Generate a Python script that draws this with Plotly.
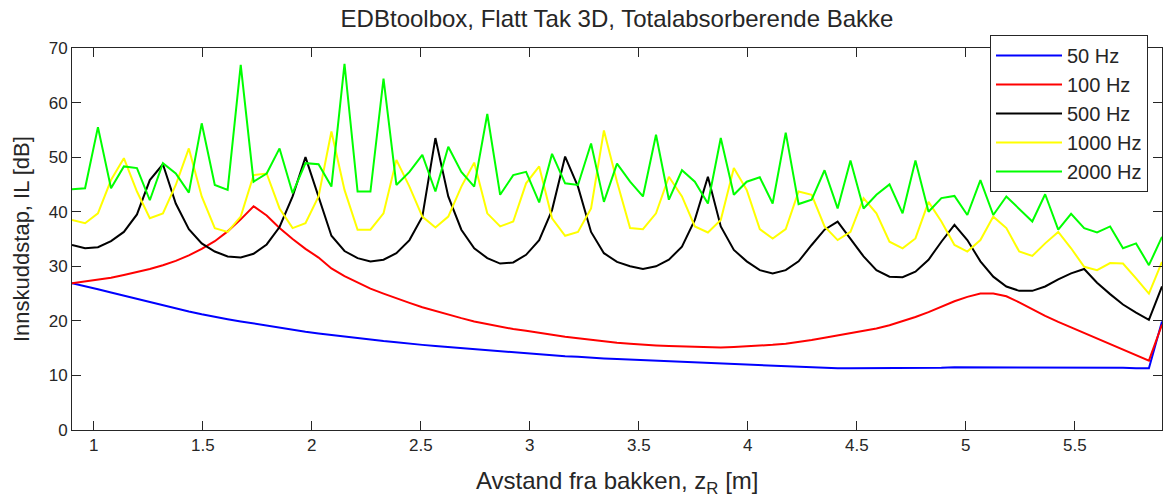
import plotly.graph_objects as go

# Receiver heights above the ground, z_R [m]
z_r = [
    0.900, 0.960, 1.019, 1.079, 1.138, 1.198, 1.257, 1.317, 1.376, 1.436,
    1.495, 1.555, 1.614, 1.674, 1.733, 1.793, 1.852, 1.912, 1.971, 2.031,
    2.090, 2.150, 2.210, 2.269, 2.329, 2.388, 2.448, 2.507, 2.567, 2.626,
    2.686, 2.745, 2.805, 2.864, 2.924, 2.983, 3.043, 3.102, 3.162, 3.221,
    3.281, 3.340, 3.400, 3.460, 3.519, 3.579, 3.638, 3.698, 3.757, 3.817,
    3.876, 3.936, 3.995, 4.055, 4.114, 4.174, 4.233, 4.293, 4.352, 4.412,
    4.471, 4.531, 4.590, 4.650, 4.710, 4.769, 4.829, 4.888, 4.948, 5.007,
    5.067, 5.126, 5.186, 5.245, 5.305, 5.364, 5.424, 5.483, 5.543, 5.602,
    5.662, 5.721, 5.781, 5.840, 5.900,
]

# Insertion loss IL [dB] per frequency
il_50 = [
    26.9, 26.4, 25.8, 25.2, 24.6, 24.0, 23.4, 22.8, 22.2, 21.7,
    21.2, 20.7, 20.3, 19.9, 19.5, 19.1, 18.7, 18.3, 18.0, 17.7,
    17.4, 17.1, 16.8, 16.6, 16.3, 16.1, 15.8, 15.6, 15.4, 15.2,
    15.0, 14.8, 14.6, 14.4, 14.2, 14.0, 13.8, 13.7, 13.5, 13.4,
    13.2, 13.1, 13.0, 12.9, 12.8, 12.7, 12.6, 12.5, 12.3, 12.2,
    12.1, 12.0, 11.9, 11.8, 11.7, 11.6, 11.5, 11.4, 11.4, 11.3,
    11.3, 11.3, 11.3, 11.3, 11.3, 11.4, 11.4, 11.4, 11.5, 11.5,
    11.5, 11.5, 11.5, 11.5, 11.5, 11.5, 11.5, 11.5, 11.5, 11.4,
    11.4, 11.4, 11.3, 11.3, 19.9,
]
il_100 = [
    26.9, 27.2, 27.5, 27.9, 28.4, 28.9, 29.5, 30.2, 31.0, 32.0,
    33.2, 34.6, 36.4, 38.6, 41.0, 39.3, 37.0, 35.0, 33.2, 31.6,
    29.6, 28.2, 27.0, 25.9, 25.0, 24.1, 23.3, 22.5, 21.8, 21.1,
    20.5, 19.9, 19.4, 18.9, 18.5, 18.2, 17.8, 17.4, 17.1, 16.8,
    16.5, 16.2, 16.0, 15.8, 15.6, 15.5, 15.4, 15.3, 15.2, 15.1,
    15.1, 15.2, 15.3, 15.4, 15.6, 15.8, 16.1, 16.5, 16.9, 17.3,
    17.7, 18.1, 18.6, 19.2, 19.9, 20.7, 21.6, 22.6, 23.6, 24.4,
    25.0, 25.0, 24.5, 23.4, 22.1, 20.9, 19.8, 18.8, 17.8, 16.8,
    15.8, 14.8, 13.8, 12.7, 19.3,
]
il_500 = [
    33.9, 33.3, 33.5, 34.6, 36.3, 39.5, 45.8, 48.7, 41.5, 36.8,
    34.2, 32.7, 31.8, 31.6, 32.3, 34.0, 37.2, 42.8, 50.0, 42.8,
    35.6, 32.8, 31.5, 30.9, 31.2, 32.4, 34.8, 39.1, 53.5, 42.8,
    36.7, 33.3, 31.5, 30.5, 30.7, 32.1, 34.8, 40.3, 50.1, 44.6,
    36.3, 32.4, 30.8, 30.0, 29.5, 30.0, 31.2, 33.6, 38.5, 46.4,
    37.3, 33.0, 30.9, 29.3, 28.7, 29.3, 30.9, 33.9, 36.7, 38.2,
    35.1, 31.8, 29.3, 28.1, 28.0, 29.0, 31.2, 34.5, 37.6, 34.8,
    30.9, 28.1, 26.3, 25.5, 25.5, 26.3, 27.6, 28.7, 29.5, 27.0,
    24.9, 23.0, 21.5, 20.2, 26.3,
]
il_1000 = [
    38.5, 37.9, 39.7, 45.8, 49.8, 43.7, 38.8, 39.7, 44.9, 51.6,
    42.8, 37.0, 36.3, 39.1, 46.7, 47.0, 40.6, 37.0, 37.9, 42.8,
    54.7, 44.0, 36.7, 36.7, 39.7, 49.5, 44.6, 39.1, 37.1, 39.1,
    44.6, 49.0, 39.7, 37.3, 38.2, 45.2, 48.3, 38.8, 35.6, 36.3,
    40.6, 54.9, 45.5, 37.0, 36.8, 39.7, 46.4, 42.8, 37.3, 36.2,
    38.5, 48.0, 44.0, 36.8, 35.1, 36.8, 43.7, 43.1, 37.3, 34.8,
    36.3, 42.5, 39.7, 34.5, 33.3, 35.1, 41.8, 38.2, 33.9, 32.7,
    34.8, 39.1, 37.0, 32.7, 31.9, 34.2, 36.3, 33.3, 29.9, 29.3,
    30.6, 30.5, 27.8, 25.0, 30.8,
]
il_2000 = [
    44.1, 44.3, 55.5, 44.3, 48.3, 48.0, 42.1, 48.9, 47.0, 43.5,
    56.2, 44.9, 44.0, 66.9, 45.5, 47.0, 51.6, 43.4, 48.9, 48.7,
    44.6, 67.1, 43.7, 43.7, 64.4, 44.9, 47.3, 50.4, 43.7, 51.9,
    47.3, 44.6, 57.9, 43.1, 46.7, 47.3, 41.7, 50.6, 45.2, 44.9,
    52.5, 41.8, 48.8, 45.5, 42.8, 54.1, 42.2, 47.6, 45.5, 41.5,
    53.5, 43.1, 45.5, 46.3, 41.5, 54.5, 41.4, 42.2, 47.6, 40.6,
    49.4, 40.6, 43.1, 45.0, 39.7, 49.4, 40.0, 42.5, 42.9, 39.4,
    45.8, 39.4, 42.8, 40.6, 38.2, 43.2, 36.7, 39.6, 37.0, 36.2,
    37.3, 33.3, 34.2, 30.2, 35.4,
]

series_names = ["50 Hz", "100 Hz", "500 Hz", "1000 Hz", "2000 Hz"]
series_values = [il_50, il_100, il_500, il_1000, il_2000]
series_colors = ["#0000ff", "#ff0000", "#000000", "#ffff00", "#00ff00"]

x_ticks = [1, 1.5, 2, 2.5, 3, 3.5, 4, 4.5, 5, 5.5]
x_tick_text = ["1", "1.5", "2", "2.5", "3", "3.5", "4", "4.5", "5", "5.5"]
y_ticks = [0, 10, 20, 30, 40, 50, 60, 70]

FONT = "Liberation Sans, Arial, sans-serif"
TEXT_COLOR = "#262626"

fig = go.Figure()
for name, vals, col in zip(series_names, series_values, series_colors):
    fig.add_trace(go.Scatter(
        x=z_r, y=vals, mode="lines", name=name,
        line=dict(color=col, width=2),
    ))

axis_common = dict(
    showline=True, linecolor=TEXT_COLOR, linewidth=1, mirror="ticks",
    ticks="inside", ticklen=9, tickwidth=1, tickcolor=TEXT_COLOR,
    showgrid=False, zeroline=False,
    tickfont=dict(family=FONT, size=17, color=TEXT_COLOR),
)

fig.update_layout(
    width=1164, height=497,
    margin=dict(l=72, r=2, t=48, b=67),
    paper_bgcolor="white", plot_bgcolor="white",
    title=dict(
        text="EDBtoolbox, Flatt Tak 3D, Totalabsorberende Bakke",
        x=0.5, xref="paper", xanchor="center",
        y=1 - 19 / 497, yref="container", yanchor="middle",
        font=dict(family=FONT, size=24, color=TEXT_COLOR),
    ),
    xaxis=dict(range=[0.9, 5.9], tickvals=x_ticks, ticktext=x_tick_text,
               **axis_common),
    yaxis=dict(range=[0, 70], tickvals=y_ticks, **axis_common),
    legend=dict(
        x=(990 - 72) / 1090, y=(430 - 35) / 382,
        xanchor="left", yanchor="top",
        bgcolor="white", bordercolor=TEXT_COLOR, borderwidth=1,
        font=dict(family=FONT, size=20, color=TEXT_COLOR),
        itemwidth=66, tracegroupgap=0,
    ),
    annotations=[
        dict(text="Avstand fra bakken, z<sub>R</sub> [m]",
             xref="paper", yref="paper", x=0.5, y=(430 - 482) / 382,
             xanchor="center", yanchor="middle", showarrow=False,
             font=dict(family=FONT, size=24, color=TEXT_COLOR)),
        dict(text="Innskuddstap, IL [dB]",
             xref="paper", yref="paper", x=(21 - 72) / 1090, y=0.5,
             xanchor="center", yanchor="middle", showarrow=False,
             textangle=-90,
             font=dict(family=FONT, size=22, color=TEXT_COLOR)),
    ],
)

fig.write_html("out.html")
